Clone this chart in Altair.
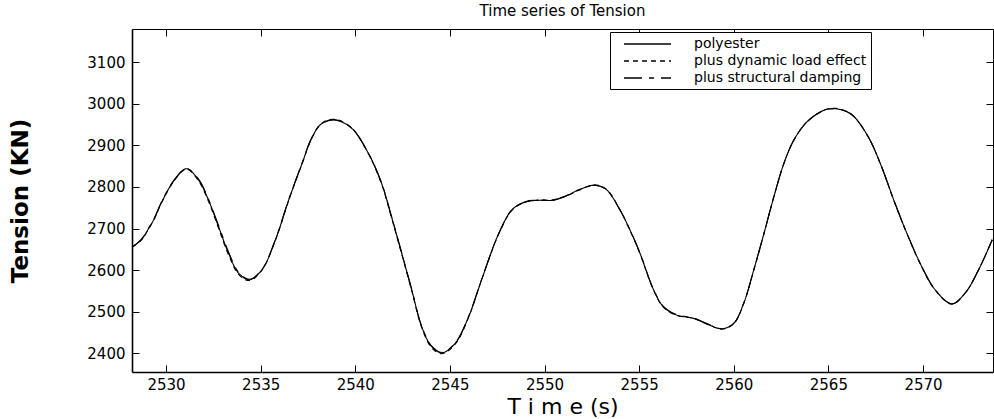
import altair as alt
import pandas as pd

time_s = [2528.19, 2528.69, 2529.04, 2529.40, 2529.75, 2530.46, 2531.08, 2531.70, 2532.23, 2532.77, 2533.30, 2533.83,
          2534.40, 2535.07, 2535.78, 2536.49, 2537.20, 2537.66, 2538.19, 2538.90, 2539.79, 2540.68,
          2541.38, 2541.91, 2542.45, 2542.98, 2543.51, 2544.04, 2544.57, 2545.28, 2545.99, 2546.70,
          2547.59, 2548.30, 2549.01, 2549.72, 2550.43, 2551.13, 2551.85, 2552.64, 2553.26, 2553.97,
          2554.51, 2555.04, 2555.74, 2556.28, 2556.98, 2557.87, 2558.76, 2559.38, 2560.00, 2560.53,
          2561.06, 2561.60, 2562.13, 2562.66, 2563.19, 2563.90, 2564.79, 2565.41, 2566.21, 2567.09,
          2567.80, 2568.51, 2569.22, 2569.93, 2570.64, 2571.53, 2572.23, 2572.94, 2573.66]

polyester = [2656, 2673, 2697, 2726, 2762, 2818, 2844, 2818, 2770, 2705, 2641, 2593,
             2577, 2601, 2673, 2770, 2858, 2914, 2951, 2961, 2942, 2882,
             2810, 2729, 2641, 2553, 2464, 2416, 2401, 2424, 2488, 2580,
             2689, 2746, 2764, 2768, 2768, 2778, 2794, 2804, 2794, 2746,
             2697, 2641, 2555, 2512, 2492, 2484, 2467, 2459, 2472, 2521,
             2601, 2689, 2778, 2858, 2914, 2958, 2985, 2988, 2975, 2922,
             2850, 2762, 2681, 2609, 2553, 2519, 2545, 2601, 2673]

dynamic_load = [2655, 2672, 2696, 2725, 2761, 2817, 2843, 2816, 2767, 2701, 2637, 2590,
                2575, 2600, 2672, 2769, 2857, 2913, 2952, 2963, 2943, 2881,
                2808, 2727, 2639, 2551, 2462, 2413, 2399, 2422, 2487, 2580,
                2688, 2745, 2764, 2769, 2769, 2778, 2793, 2805, 2795, 2747,
                2696, 2640, 2554, 2511, 2491, 2484, 2467, 2458, 2471, 2520,
                2600, 2688, 2778, 2858, 2914, 2958, 2985, 2989, 2975, 2922,
                2850, 2761, 2680, 2608, 2552, 2518, 2545, 2601, 2673]

structural_damping = [2654, 2674, 2698, 2727, 2763, 2819, 2844, 2820, 2772, 2708, 2644, 2595,
                      2578, 2602, 2674, 2771, 2859, 2915, 2951, 2962, 2942, 2882,
                      2811, 2730, 2642, 2554, 2465, 2417, 2402, 2425, 2489, 2581,
                      2689, 2746, 2765, 2768, 2768, 2779, 2794, 2804, 2794, 2746,
                      2698, 2642, 2556, 2513, 2493, 2485, 2468, 2459, 2472, 2521,
                      2601, 2689, 2779, 2858, 2914, 2958, 2985, 2988, 2975, 2922,
                      2850, 2762, 2681, 2609, 2553, 2519, 2545, 2601, 2673]

series_names = ["polyester", "plus dynamic load effect", "plus structural damping"]
x_ticks = [2530, 2535, 2540, 2545, 2550, 2555, 2560, 2565, 2570]
y_ticks = [2400, 2500, 2600, 2700, 2800, 2900, 3000, 3100]

rows = []
for name, vals in zip(series_names, [polyester, dynamic_load, structural_damping]):
    for t, v in zip(time_s, vals):
        rows.append({"t": t, "v": v, "s": name})
df = pd.DataFrame(rows)

FONT = "DejaVu Sans"
xscale = alt.Scale(domain=[2528.2, 2573.7], nice=False, zero=False)
yscale = alt.Scale(domain=[2355, 3180], nice=False, zero=False)
inward = {"expr": "-7"}

lines = alt.Chart(df).mark_line(color="black", strokeWidth=1.1, interpolate="catmull-rom", clip=True).encode(
    x=alt.X("t:Q", scale=xscale,
            axis=alt.Axis(values=x_ticks, format="d", title="T i m e (s)", orient="bottom",
                          tickSize=inward, labelPadding=12, labelFont=FONT, labelFontSize=15,
                          labelColor="black", titleFont=FONT, titleFontSize=22, titleFontWeight="normal",
                          titleColor="black", titlePadding=4, domainColor="black", domainWidth=1.6,
                          tickColor="black", grid=False, labelFlush=False)),
    y=alt.Y("v:Q", scale=yscale,
            axis=alt.Axis(values=y_ticks, format="d", title="Tension (KN)", orient="left",
                          tickSize=inward, labelPadding=14, labelFont=FONT, labelFontSize=15,
                          labelColor="black", titleFont=FONT, titleFontSize=23, titleFontWeight="bold",
                          titleColor="black", titlePadding=54, domainColor="black", domainWidth=1.6,
                          tickColor="black", grid=False, labelFlush=False)),
    strokeDash=alt.StrokeDash("s:N",
        scale=alt.Scale(domain=series_names, range=[[1, 0], [5, 4], [18, 7, 5, 7]]),
        legend=alt.Legend(title=None, orient="none", legendX=478, legendY=3,
                          strokeColor="black", fillColor="white", padding=4,
                          symbolType="M-3.36,0H3.36", symbolSize=196, symbolStrokeWidth=1.5,
                          symbolStrokeColor="black", symbolFillColor="transparent",
                          symbolOpacity=1, symbolOffset=25.5,
                          labelFont=FONT, labelFontSize=14, labelColor="black",
                          labelOffset=38.5, rowPadding=2, labelLimit=400)),
    detail="s:N",
)

frame = alt.Chart(df).mark_line(opacity=0).encode(
    x=alt.X("t:Q", scale=xscale,
            axis=alt.Axis(values=x_ticks, orient="top", labels=False, title=None,
                          tickSize=inward, domainColor="black", domainWidth=1,
                          tickColor="black", grid=False)),
    y=alt.Y("v:Q", scale=yscale,
            axis=alt.Axis(values=y_ticks, orient="right", labels=False, title=None,
                          tickSize=inward, domainColor="black", domainWidth=1,
                          tickColor="black", grid=False)),
    detail="s:N",
)

chart = alt.layer(lines, frame).resolve_axis(x="independent", y="independent").properties(
    width=861, height=343,
    padding={"left": 132, "top": 29, "right": 1, "bottom": 47},
    autosize="none",
    title=alt.TitleParams("Time series of Tension", font=FONT, fontSize=15, fontWeight="normal",
                          color="black", offset=10, anchor="middle"),
).configure_view(stroke=None).configure(background="white")

chart.save("out.html", embed_options={"renderer": "svg", "actions": False})
